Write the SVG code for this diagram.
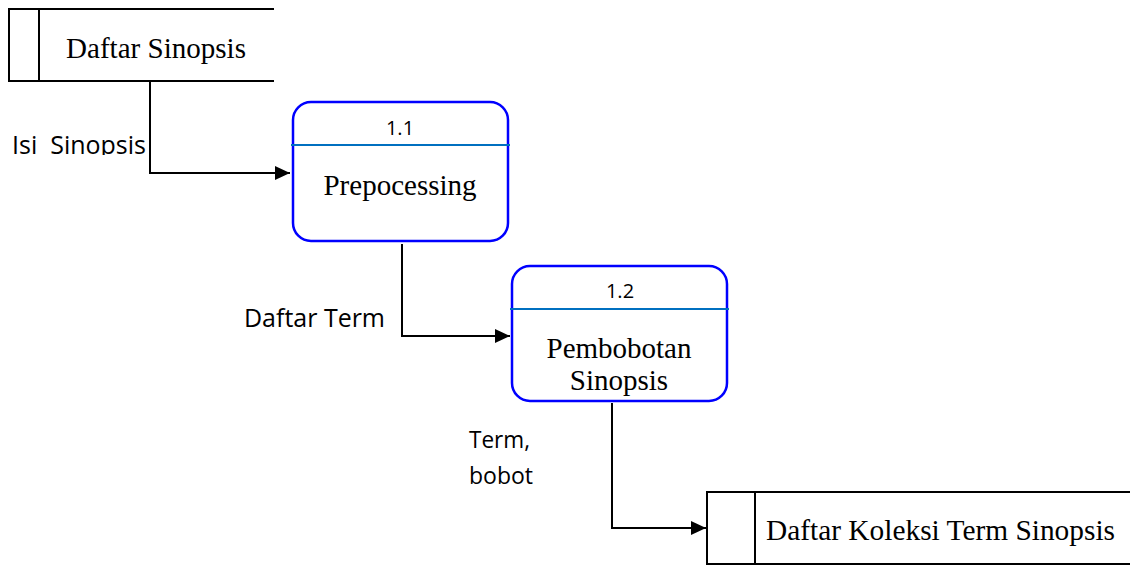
<svg xmlns="http://www.w3.org/2000/svg" width="1134" height="565" viewBox="0 0 1134 565">
<style>
.store{fill:none;stroke:#000;stroke-width:2}
.proc{fill:#fff;stroke:#0000ff;stroke-width:2.5}
.div{stroke:#0070c0;stroke-width:2}
.serif{font-family:"Liberation Serif","Times New Roman",serif;font-size:29px;fill:#000}
.sans{font-family:"Open Sans","Noto Sans",sans-serif;fill:#000}
.flow{fill:none;stroke:#000;stroke-width:2}
</style>
<defs>
<marker id="arr" markerWidth="16" markerHeight="14" refX="15" refY="7" orient="auto" markerUnits="userSpaceOnUse">
<path d="M0,0 L15,7 L0,14 Z" fill="#000"/>
</marker>
<clipPath id="clipIsi"><rect x="0" y="120" width="150" height="35"/></clipPath>
</defs>
<rect width="1134" height="565" fill="#fff"/>
<g id="store-daftar-sinopsis">
<path class="store" d="M274,9 H9 V81 H274 M39,9 V81"/>
<text class="serif" x="66" y="58" textLength="180" lengthAdjust="spacingAndGlyphs">Daftar Sinopsis</text>
</g>
<g id="process-1-1">
<rect class="proc" x="293" y="102" width="215" height="139" rx="18"/>
<line class="div" x1="291" y1="145" x2="510" y2="145"/>
<text class="sans" x="400" y="135" font-size="20" text-anchor="middle">1.1</text>
<text class="serif" x="400" y="195" text-anchor="middle">Prepocessing</text>
</g>
<g id="process-1-2">
<rect class="proc" x="512" y="266" width="215" height="135" rx="18"/>
<line class="div" x1="510" y1="309" x2="729" y2="309"/>
<text class="sans" x="620" y="298" font-size="20" text-anchor="middle">1.2</text>
<text class="serif" x="619" y="358" text-anchor="middle">Pembobotan</text>
<text class="serif" x="619" y="390" text-anchor="middle">Sinopsis</text>
</g>
<g id="store-daftar-koleksi">
<path class="store" d="M1130,492 H707 V564 H1130 M755,492 V564"/>
<text class="serif" x="766" y="540" textLength="349" lengthAdjust="spacingAndGlyphs">Daftar Koleksi Term Sinopsis</text>
</g>
<g id="connectors">
<path class="flow" d="M150,82 V173 H290" marker-end="url(#arr)"/>
<path class="flow" d="M402,244 V336 H510" marker-end="url(#arr)"/>
<path class="flow" d="M612,403 V528 H706" marker-end="url(#arr)"/>
<text class="sans" x="12" y="154" font-size="26" textLength="134" lengthAdjust="spacingAndGlyphs" xml:space="preserve" clip-path="url(#clipIsi)">Isi  Sinopsis</text>
<text class="sans" x="244" y="327" font-size="26" textLength="141" lengthAdjust="spacingAndGlyphs">Daftar Term</text>
<text class="sans" x="469" y="448" font-size="23" textLength="61" lengthAdjust="spacingAndGlyphs">Term,</text>
<text class="sans" x="469" y="484" font-size="23" textLength="64" lengthAdjust="spacingAndGlyphs">bobot</text>
</g>
</svg>
